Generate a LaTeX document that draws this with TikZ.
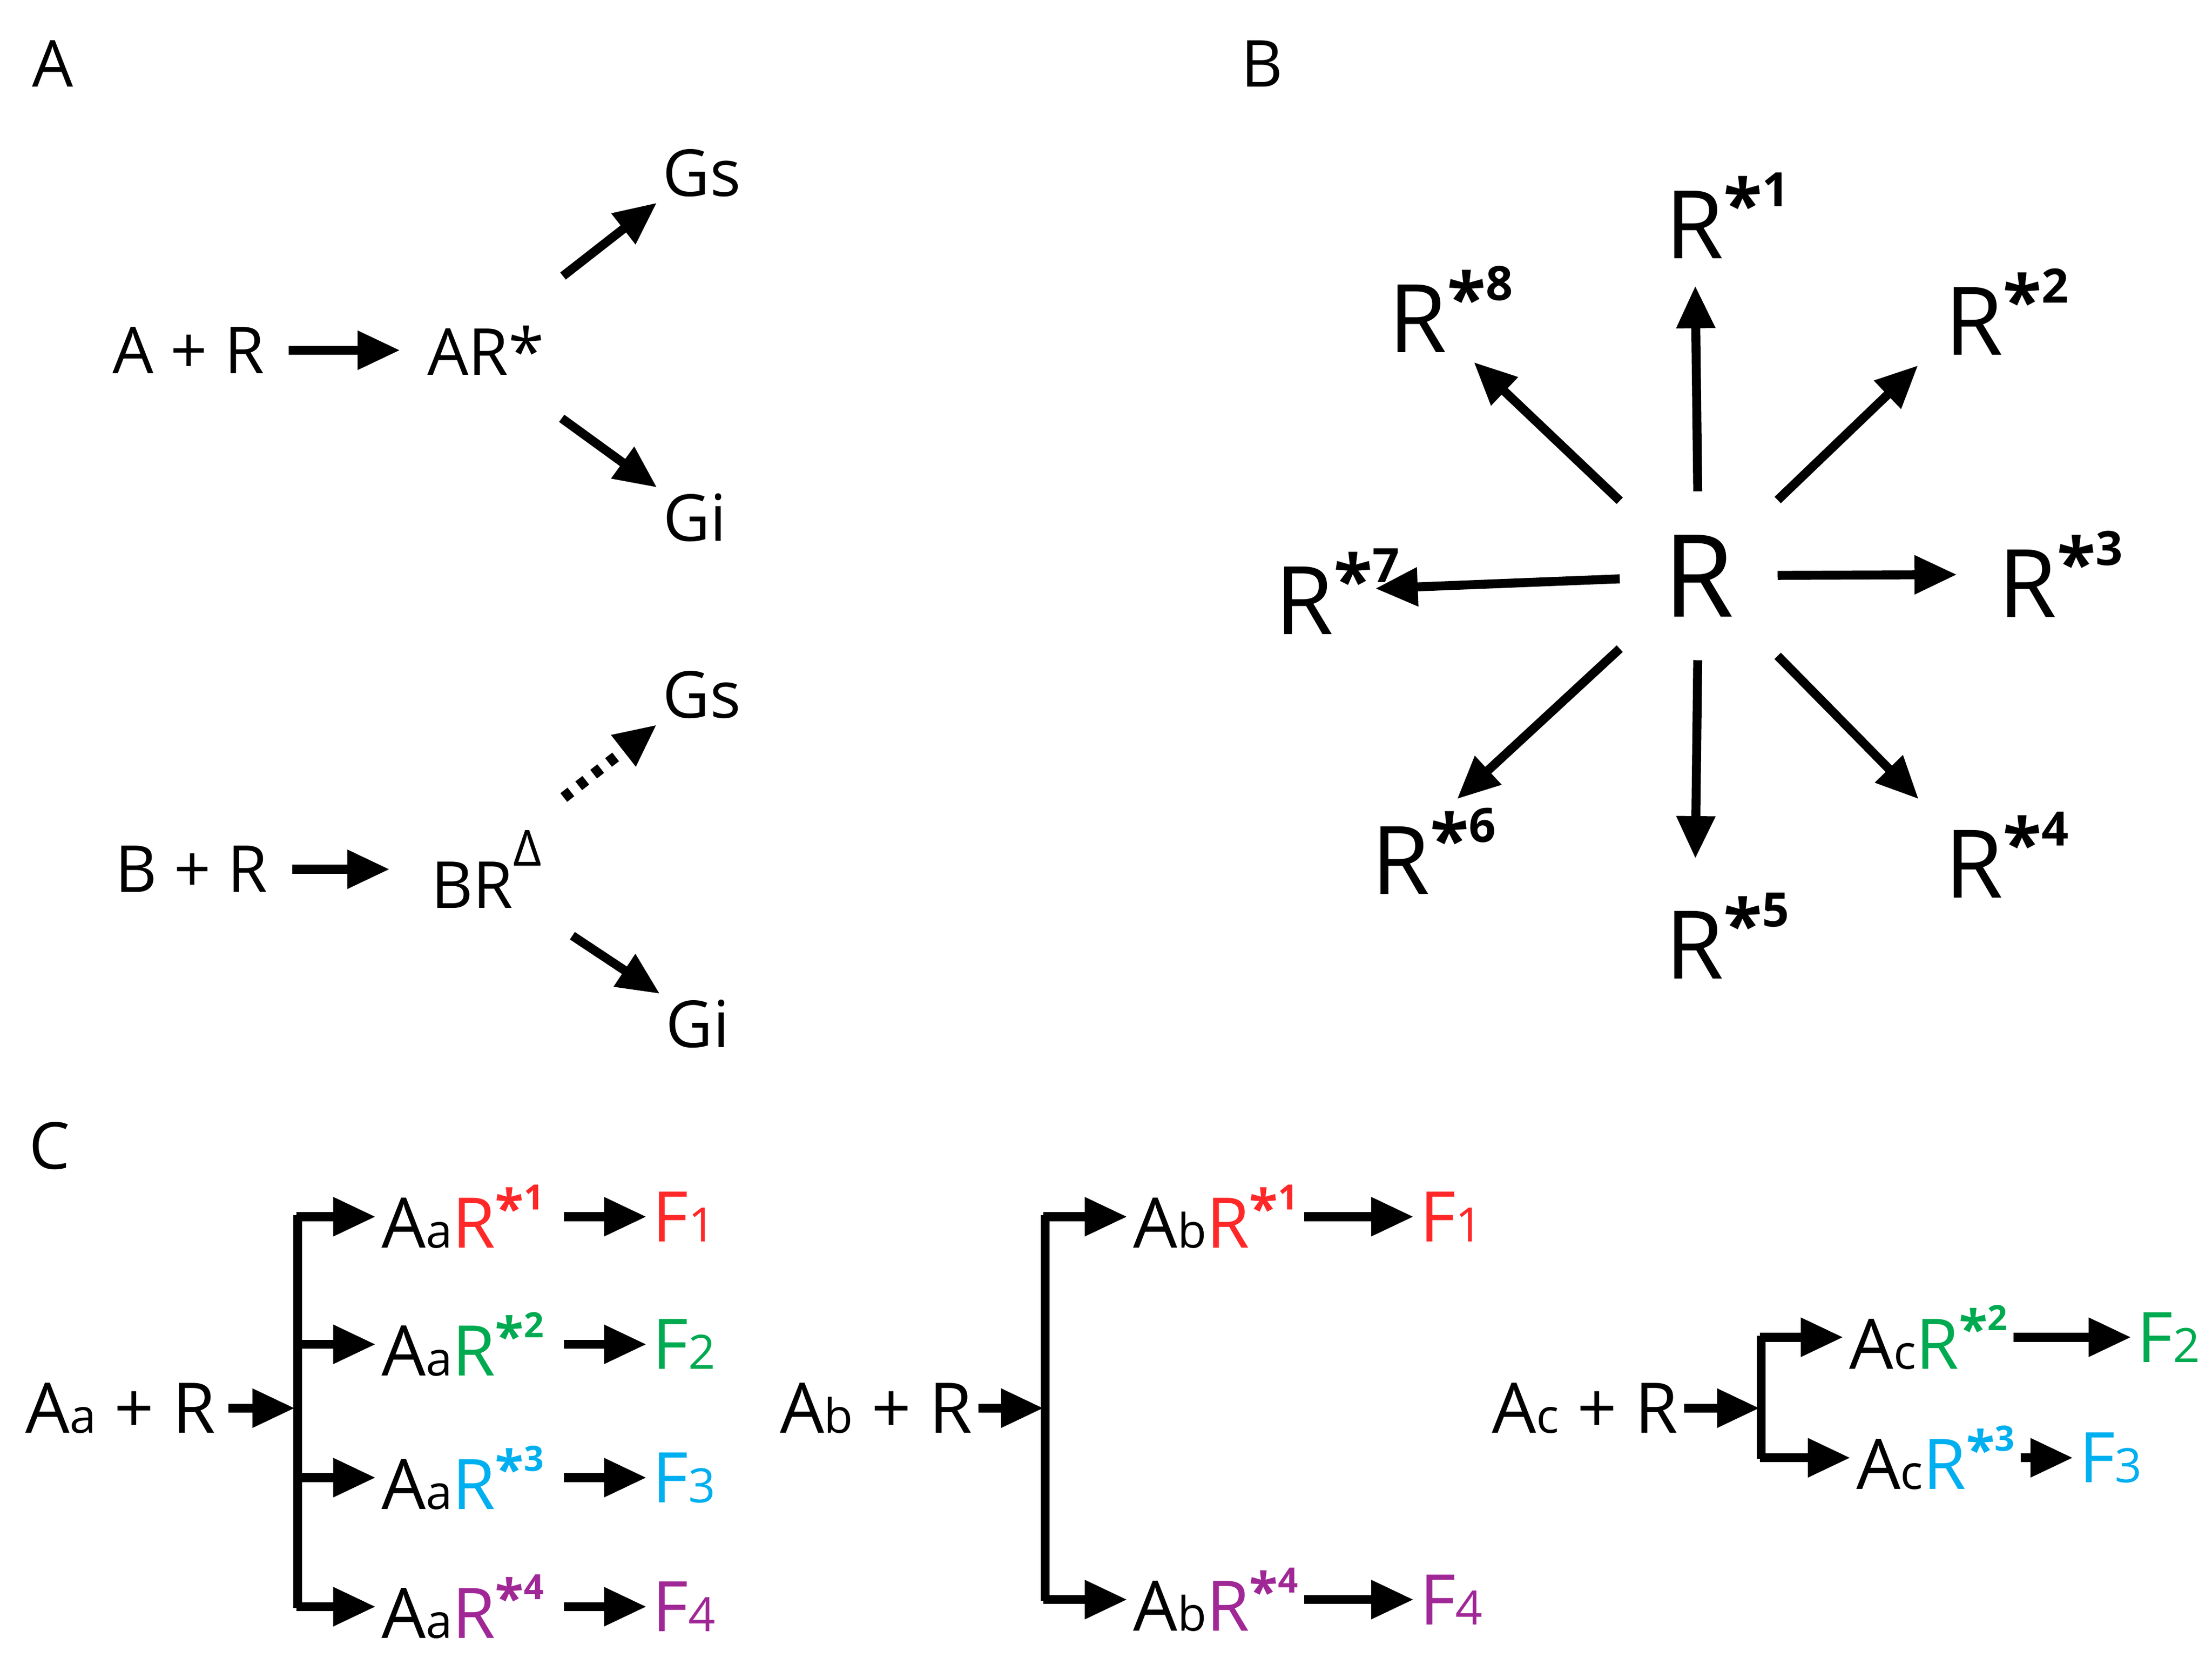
\documentclass[tikz,border=0pt]{standalone}
\usepackage{fontspec}
\setmainfont{Open Sans}
\usetikzlibrary{arrows.meta}
\definecolor{fred}{RGB}{255,40,40}
\definecolor{fgreen}{RGB}{0,170,80}
\definecolor{fblue}{RGB}{0,175,240}
\definecolor{fpurple}{RGB}{160,40,150}
\newcommand{\lowsub}[1]{{\fontsize{9.5pt}{9.5pt}\selectfont #1}}
\newcommand{\rst}[1]{R\raisebox{0.3em}{\fontsize{0.75em}{1em}\selectfont\bfseries *}\raisebox{0.55em}{\fontsize{0.5em}{1em}\selectfont\bfseries #1}}
\newcommand{\rstl}[1]{R\rlap{\raisebox{0.3em}{\fontsize{0.75em}{1em}\selectfont\bfseries *}\raisebox{0.55em}{\fontsize{0.5em}{1em}\selectfont\bfseries #1}}}
\tikzset{
  arr/.style={line width=1.8pt,-{Triangle[length=3mm,width=2.6mm]}},
  txt/.style={font=\fontsize{13pt}{13pt}\selectfont,inner sep=1pt},
  big/.style={font=\fontsize{19pt}{19pt}\selectfont,inner sep=1pt},
  cc/.style={font=\fontsize{14pt}{14pt}\selectfont,inner sep=1pt},
  panel/.style={font=\fontsize{13pt}{13pt}\selectfont}
}
\begin{document}
\begin{tikzpicture}[x=0.1mm,y=-0.1mm]
    \useasboundingbox (0,0) rectangle (1560,1169);
    % panel A
    \node[panel] (lA) at (37,45) {A};
    \node[txt] (ar) at (133,247) {A + R};
    \node[txt] (ars) at (330,247) {AR\rlap{*}};
    \node[txt] (gs1) at (495,122) {Gs};
    \node[txt] (gi1) at (490,365) {Gi};
    \draw[arr,shorten <=1.3mm,shorten >=1.5mm] (ar.east) -- (ars.west);
    \draw[arr,shorten <=5mm] (ars) -- (gs1.south west);
    \draw[arr,shorten <=4.5mm] (ars) -- (gi1.north west);
    \node[txt] (br) at (135,613) {B + R};
    \node[txt] (brd) at (333,613) {BR\rlap{\raisebox{0.65em}{\fontsize{10pt}{10pt}\selectfont Δ}}};
    \node[txt] (gs2) at (495,490) {Gs};
    \node[txt] (gi2) at (492,722) {Gi};
    \draw[arr,shorten <=1.3mm,shorten >=2.5mm] (br.east) -- (brd.west);
    \draw[arr,dotted,line width=2.2pt,shorten <=4mm] (brd) -- (gs2.south west);
    \draw[arr,shorten <=4.5mm] (brd) -- (gi2.north west);
    % panel B
    \node[panel] (lB) at (890,45) {B};
    \node[font=\fontsize{23pt}{23pt}\selectfont,inner sep=3mm] (R) at (1198,406) {R};
    \node[big] (r1) at (1195,152) {\rstl{1}};
    \node[big] (r2) at (1392,220) {\rstl{2}};
    \node[big] (r3) at (1430,405) {\rstl{3}};
    \node[big] (r4) at (1392,603) {\rstl{4}};
    \node[big] (r5) at (1195,660) {\rstl{5}};
    \node[big] (r6) at (988,600) {\rstl{6}};
    \node[big] (r7) at (920,417) {\rstl{7}};
    \node[big] (r8) at (1000,218) {\rstl{8}};
    \foreach \n/\s in {r1/1.5,r2/2,r3/2.5,r4/2,r5/2,r6/2,r7/2.5,r8/2}
      \draw[arr,shorten >=\s mm] (R) -- (\n);
    % panel C
    \node[panel] (lC) at (35,808) {C};
    \node[cc] (ca) at (85,993) {A\lowsub{a} + R};
    \coordinate (ja) at (208,993);
    \draw[arr,shorten <=0.5mm] (ca.east) -- (ja);
    \draw[line width=1.8pt] (210,857) -- (210,1134);
    \foreach \y/\k/\c in {858/1/fred,948/2/fgreen,1042/3/fblue,1133/4/fpurple}{
      \node[cc,anchor=west] (a\k) at (265,\y) {A\lowsub{a}\textcolor{\c}{\rst{\k}}};
      \node[cc,anchor=west,text=\c] (fa\k) at (456,\y) {F\lowsub{\k}};
      \draw[arr] (209,\y) -- (a\k.west);
      \draw[arr,shorten <=1mm] (a\k.east) -- (fa\k.west);
    }
    \node[cc] (cb) at (618,993) {A\lowsub{b} + R};
    \draw[arr] (cb.east) -- (736,993);
    \draw[line width=1.8pt] (737,857) -- (737,1129);
    \foreach \y/\k/\c in {858/1/fred,1128/4/fpurple}{
      \node[cc,anchor=west] (b\k) at (795,\y) {A\lowsub{b}\textcolor{\c}{\rst{\k}}};
      \node[cc,anchor=west,text=\c] (fb\k) at (997,\y) {F\lowsub{\k}};
      \draw[arr] (736,\y) -- (b\k.west);
      \draw[arr] (b\k.east) -- (fb\k.west);
    }
    \node[cc] (cc0) at (1118,993) {A\lowsub{c} + R};
    \draw[arr] (cc0.east) -- (1241,993);
    \draw[line width=1.8pt] (1242,942) -- (1242,1029);
    \node[cc,anchor=west] (c2) at (1300,943) {A\lowsub{c}\textcolor{fgreen}{\rst{2}}};
    \node[cc,anchor=west,text=fgreen] (fc2) at (1503,943) {F\lowsub{2}};
    \node[cc,anchor=west] (c3) at (1305,1028) {A\lowsub{c}\textcolor{fblue}{\rst{3}}};
    \node[cc,anchor=west,text=fblue] (fc3) at (1462,1028) {F\lowsub{3}};
    \draw[arr] (1241,943) -- (c2.west);
    \draw[arr] (1241,1028) -- (c3.west);
    \draw[arr] (c2.east) -- (fc2.west);
    \draw[arr] (c3.east) -- (fc3.west);
\end{tikzpicture}
\end{document}
